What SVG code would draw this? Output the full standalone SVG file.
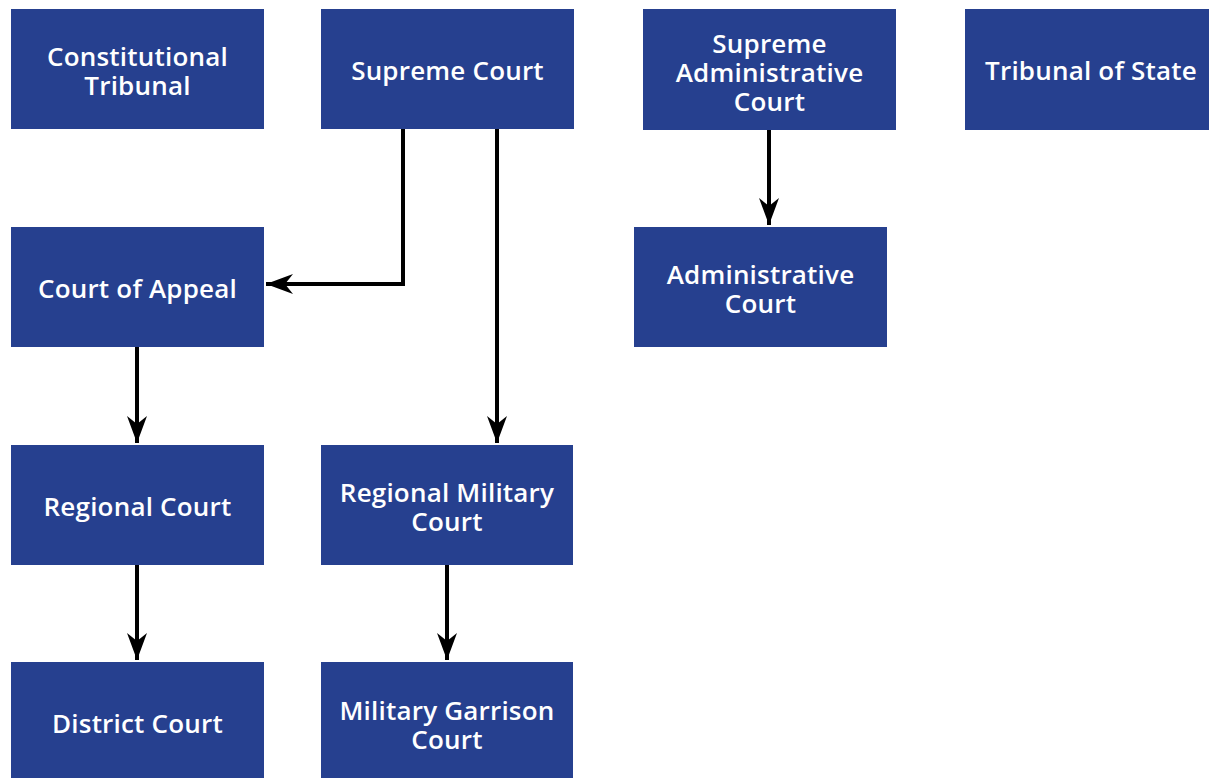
<svg xmlns="http://www.w3.org/2000/svg" width="1209" height="778" viewBox="0 0 1209 778">
<style>
.box{fill:#26408F}
.t{fill:#fff;font-family:"Open Sans","Liberation Sans",sans-serif;font-weight:600;font-size:26px;letter-spacing:0.2px;text-anchor:middle}
.c{fill:none;stroke:#000;stroke-width:4}
</style>
<defs>
<marker id="ah" markerUnits="userSpaceOnUse" markerWidth="30" markerHeight="24" viewBox="-28 -11 30 22" refX="0" refY="0" orient="auto">
<path d="M0,0 L-27,-10 L-19,0 L-27,10 Z" fill="#000"/>
</marker>
</defs>
<rect width="1209" height="778" fill="#fff"/>
<g id="constitutional-tribunal"><rect class="box" x="11" y="9" width="253" height="120"/><text class="t" x="137.5" y="66">Constitutional</text><text class="t" x="137.5" y="95">Tribunal</text></g>
<g id="supreme-court"><rect class="box" x="321" y="9" width="253" height="120"/><text class="t" x="447.5" y="80">Supreme Court</text></g>
<g id="supreme-administrative-court"><rect class="box" x="643" y="9" width="253" height="121"/><text class="t" x="769.5" y="53">Supreme</text><text class="t" x="769.5" y="82">Administrative</text><text class="t" x="769.5" y="111">Court</text></g>
<g id="tribunal-of-state"><rect class="box" x="965" y="9" width="244" height="121"/><text class="t" x="1091" y="80">Tribunal of State</text></g>
<g id="court-of-appeal"><rect class="box" x="11" y="227" width="253" height="120"/><text class="t" x="137.5" y="298">Court of Appeal</text></g>
<g id="administrative-court"><rect class="box" x="634" y="227" width="253" height="120"/><text class="t" x="760.5" y="284">Administrative</text><text class="t" x="760.5" y="313">Court</text></g>
<g id="regional-court"><rect class="box" x="11" y="445" width="253" height="120"/><text class="t" x="137.5" y="516">Regional Court</text></g>
<g id="regional-military-court"><rect class="box" x="321" y="445" width="252" height="120"/><text class="t" x="447" y="502">Regional Military</text><text class="t" x="447" y="531">Court</text></g>
<g id="district-court"><rect class="box" x="11" y="662" width="253" height="116"/><text class="t" x="137.5" y="733">District Court</text></g>
<g id="military-garrison-court"><rect class="box" x="321" y="662" width="252" height="116"/><text class="t" x="447" y="720">Military Garrison</text><text class="t" x="447" y="749">Court</text></g>
<g id="connectors">
<path class="c" d="M403,129 V284 H266" marker-end="url(#ah)"/>
<path class="c" d="M497,129 V443" marker-end="url(#ah)"/>
<path class="c" d="M769,130 V225" marker-end="url(#ah)"/>
<path class="c" d="M137,347 V443" marker-end="url(#ah)"/>
<path class="c" d="M137,565 V660" marker-end="url(#ah)"/>
<path class="c" d="M447,565 V660" marker-end="url(#ah)"/>
</g>
</svg>
